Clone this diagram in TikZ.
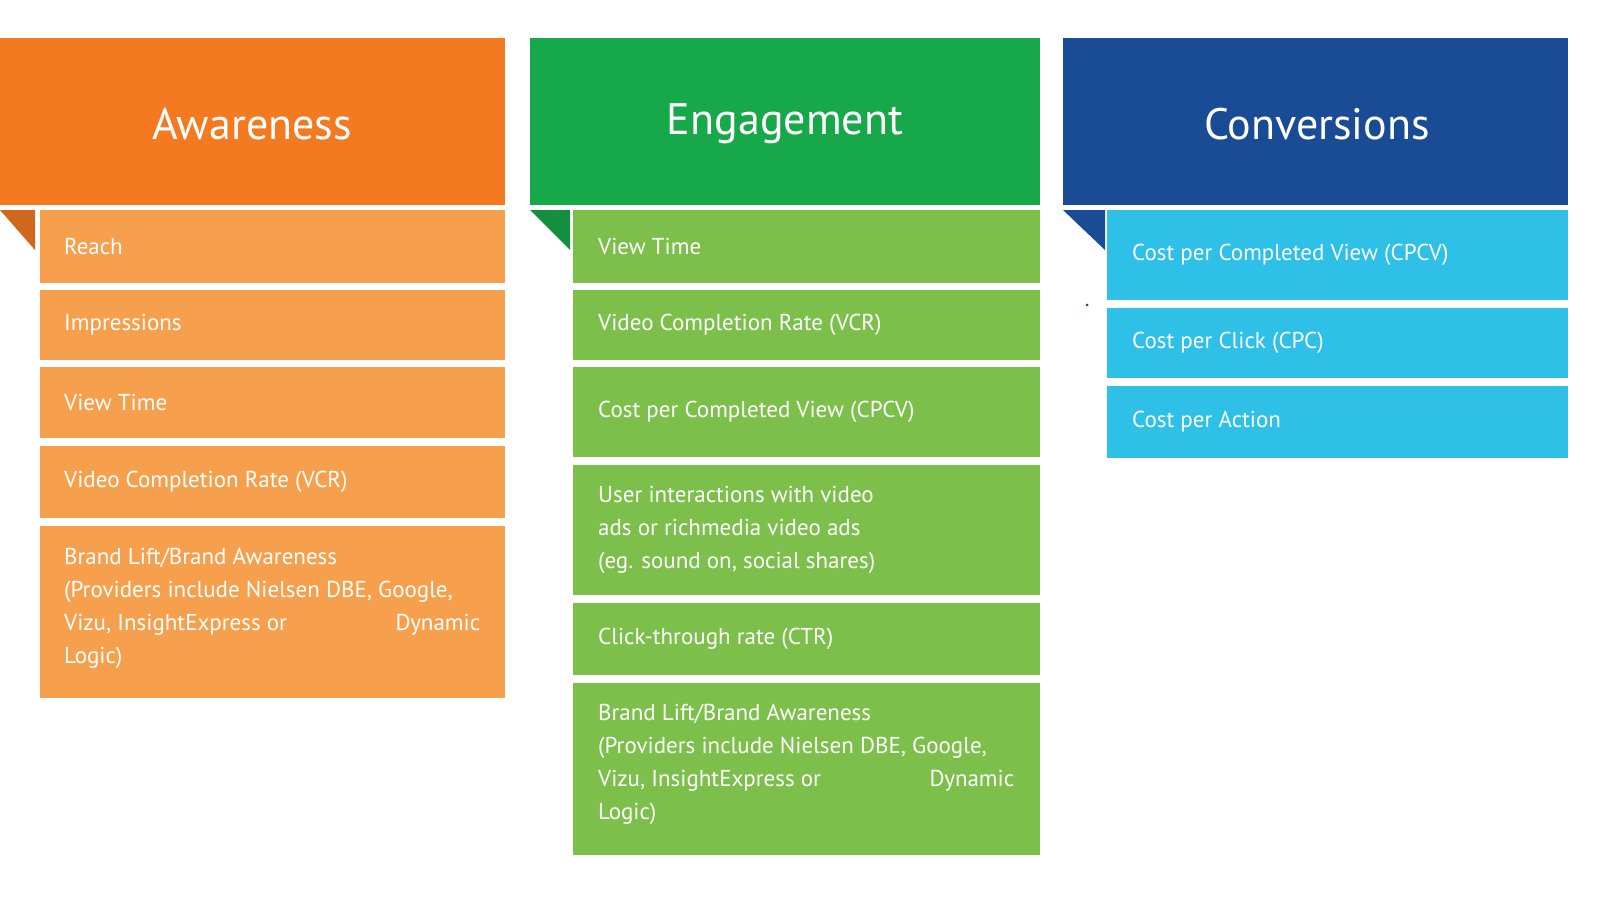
\documentclass[tikz,border=0pt]{standalone}
\usepackage{fontspec}
\setmainfont{PT Sans}
\begin{document}
\begin{tikzpicture}[x=1pt,y=-1pt,
 hd/.style={font=\fontsize{44}{50}\selectfont,text=white},
 it/.style={font=\fontsize{23}{33}\selectfont,text=white,anchor=west,align=left,inner sep=0}]
\useasboundingbox[fill=white] (0,0) rectangle (1600,900);
\definecolor{oh}{HTML}{F37A21}\definecolor{oi}{HTML}{F6A04D}
\definecolor{gh}{HTML}{17A84A}\definecolor{gi}{HTML}{7CC04B}
\definecolor{bh}{HTML}{1A4B95}\definecolor{bi}{HTML}{2EC0E6}
% headers
\fill[oh] (0,38) rectangle (505,205); \node[hd] (ha) at (252,124) {Awareness};
\fill[gh] (530,38) rectangle (1040,205); \node[hd] (he) at (785,124) {Engagement};
\fill[bh] (1063,38) rectangle (1568,205); \node[hd] (hc) at (1317,124) {Conversions};
\fill[oh!85!black] (0,210) -- (35,210) -- (35,250) -- cycle;
\fill[gh!85!black] (530,210) -- (570,210) -- (570,250) -- cycle;
\fill[bh] (1063,210) -- (1105,210) -- (1105,250) -- cycle;
\fill[bh] (1087,305) circle (1.5);
% awareness
\foreach \a/\b/\t [count=\i] in {210/283/Reach,290/360/Impressions,367/438/View Time,446/518/Video Completion Rate (VCR)}{
 \fill[oi] (40,\a) rectangle (505,\b); \node[it] (a\i) at (64,{(\a+\b)/2}) {\t};}
\fill[oi] (40,526) rectangle (505,698);
\node[it,anchor=north west] (a5) at (64,548) {Brand Lift/Brand Awareness\\(Providers include Nielsen DBE, Google,\\\makebox[416pt][l]{Vizu, InsightExpress or\hfill Dynamic}\\Logic)};
% engagement
\foreach \a/\b/\t [count=\i] in {210/283/View Time,290/360/Video Completion Rate (VCR),367/457/Cost per Completed View (CPCV),603/675/Click-through rate (CTR)}{
 \fill[gi] (573,\a) rectangle (1040,\b); \node[it] (e\i) at (598,{(\a+\b)/2}) {\t};}
\fill[gi] (573,465) rectangle (1040,595);
\node[it] (e5) at (598,530) {User interactions with video\\ads or richmedia video ads\\(eg. sound on, social shares)};
\fill[gi] (573,683) rectangle (1040,855);
\node[it,anchor=north west] (e6) at (598,704) {Brand Lift/Brand Awareness\\(Providers include Nielsen DBE, Google,\\\makebox[416pt][l]{Vizu, InsightExpress or\hfill Dynamic}\\Logic)};
% conversions
\foreach \a/\b/\t [count=\i] in {210/300/Cost per Completed View (CPCV),308/378/Cost per Click (CPC),386/458/Cost per Action}{
 \fill[bi] (1107,\a) rectangle (1568,\b); \node[it] (c\i) at (1132,{(\a+\b)/2}) {\t};}
\end{tikzpicture}
\end{document}
